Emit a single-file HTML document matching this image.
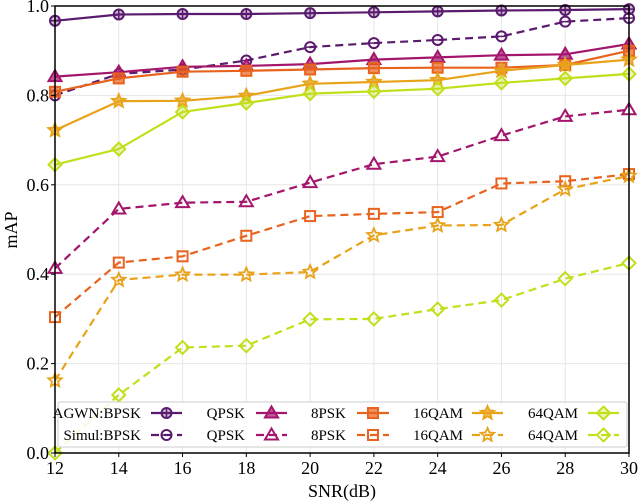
<!DOCTYPE html>
<html><head><meta charset="utf-8"><style>
html,body{margin:0;padding:0;background:#fff;width:640px;height:503px;overflow:hidden}
svg text{font-family:"Liberation Serif",serif;fill:#000}
</style></head><body>
<svg id="s" width="640" height="503" xmlns="http://www.w3.org/2000/svg"></svg>
<script>
const s=document.getElementById('s');
const X0=55,X1=629,Y0=453,Y1=6;
const fx=v=>X0+(v-12)/18*(X1-X0), fy=v=>Y0-v*(Y0-Y1);
let h='';
for(let x=14;x<30;x+=2)h+=`<line x1="${fx(x)}" y1="${Y1}" x2="${fx(x)}" y2="${Y0}" stroke="#e6e6e6" stroke-width="1"/>`;
for(let y=0.2;y<1;y+=0.2)h+=`<line x1="${X0}" y1="${fy(y)}" x2="${X1}" y2="${fy(y)}" stroke="#e6e6e6" stroke-width="1"/>`;
const xs=[12,14,16,18,20,22,24,26,28,30];
const S=[
['#5a1a6e','c',[0.967,0.981,0.982,0.982,0.984,0.986,0.988,0.99,0.991,0.993],[0.80,0.848,0.858,0.878,0.908,0.917,0.924,0.932,0.965,0.973]],
['#a3166c','t',[0.842,0.852,0.864,0.866,0.870,0.880,0.885,0.890,0.892,0.915],[0.413,0.546,0.560,0.562,0.605,0.646,0.663,0.710,0.753,0.768]],
['#e8631e','s',[0.808,0.838,0.853,0.855,0.858,0.861,0.862,0.862,0.868,0.900],[0.304,0.426,0.440,0.486,0.530,0.535,0.539,0.603,0.608,0.624]],
['#e8a31a','p',[0.722,0.787,0.788,0.799,0.826,0.830,0.834,0.855,0.868,0.880],[0.162,0.387,0.399,0.399,0.405,0.487,0.509,0.510,0.590,0.620]],
['#c3df1c','d',[0.645,0.680,0.763,0.783,0.804,0.809,0.815,0.828,0.838,0.848],[0.0,0.130,0.236,0.240,0.299,0.300,0.322,0.342,0.390,0.425]]];
function mk(t,x,y,c,fill){
 const f=fill?c:'none';
 if(t=='c')return `<circle cx="${x}" cy="${y}" r="5" fill="${fill?c:'#fff'}" fill-opacity="${fill?0.3:0}" stroke="${c}" stroke-width="2"/>`+(fill?`<line x1="${x-4.5}" y1="${y}" x2="${x+4.5}" y2="${y}" stroke="${c}" stroke-width="1.5"/><line x1="${x}" y1="${y-4.5}" x2="${x}" y2="${y+4.5}" stroke="${c}" stroke-width="1.5"/>`:`<line x1="${x-4.5}" y1="${y}" x2="${x+4.5}" y2="${y}" stroke="${c}" stroke-width="1.5"/>`);
 if(t=='t')return `<polygon points="${x},${y-6.5} ${x+6.5},${y+4.5} ${x-6.5},${y+4.5}" fill="${f}" fill-opacity="0.7" stroke="${c}" stroke-width="2"/>`;
 if(t=='s')return `<rect x="${x-5}" y="${y-5}" width="10" height="10" fill="${f}" fill-opacity="0.7" stroke="${c}" stroke-width="2"/>`;
 if(t=='p'){let p=[];for(let i=0;i<10;i++){const a=-Math.PI/2+i*Math.PI/5,rr=i%2?3.2:7;p.push((x+rr*Math.cos(a)).toFixed(1)+','+(y+rr*Math.sin(a)).toFixed(1));}return `<polygon points="${p.join(' ')}" fill="${f}" fill-opacity="0.7" stroke="${c}" stroke-width="1.8"/>`;}
 if(t=='d')return `<polygon points="${x},${y-6.5} ${x+6.5},${y} ${x},${y+6.5} ${x-6.5},${y}" fill="${fill?c:'#fff'}" fill-opacity="${fill?0.3:0}" stroke="${c}" stroke-width="2"/>`;
}
S.forEach(([c,t,a,b])=>{
 [[a,true],[b,false]].forEach(([d,solid])=>{
  const pts=xs.map((x,i)=>fx(x).toFixed(1)+','+fy(d[i]).toFixed(1)).join(' ');
  h+=`<polyline points="${pts}" fill="none" stroke="${c}" stroke-width="2.2" ${solid?'':'stroke-dasharray="8,5"'}/>`;
  xs.forEach((x,i)=>h+=mk(t,fx(x),fy(d[i]),c,solid));
 });
});
h+=`<rect x="58" y="402" width="569" height="45" fill="#fff" fill-opacity="0.85" stroke="#ccc" rx="2"/>`;
const cols=[[141,151,182],[245,256,287],[346,357,389],[463,472,503],[578,588,619]];
const names=[['AGWN:BPSK','Simul:BPSK'],['QPSK','QPSK'],['8PSK','8PSK'],['16QAM','16QAM'],['64QAM','64QAM']];
S.forEach(([c,t],k)=>{
 const [te,l0,l1]=cols[k];
 [[413,true],[435,false]].forEach(([y,solid],r)=>{
  h+=`<text x="${te}" y="${y+5}" font-size="15" text-anchor="end">${names[k][r]}</text>`;
  h+=`<line x1="${l0}" y1="${y}" x2="${l1}" y2="${y}" stroke="${c}" stroke-width="2.2" ${solid?'':'stroke-dasharray="8,5"'}/>`;
  h+=mk(t,(l0+l1)/2,y,c,solid);
 });
});
h+=`<rect x="${X0}" y="${Y1}" width="${X1-X0}" height="${Y0-Y1}" fill="none" stroke="#000" stroke-width="1.5"/>`;
xs.forEach(x=>{h+=`<line x1="${fx(x)}" y1="${Y0}" x2="${fx(x)}" y2="${Y0+4}" stroke="#000"/><text x="${fx(x)}" y="${Y0+21}" font-size="18" text-anchor="middle">${x}</text>`;});
for(let i=0;i<=5;i++){const y=fy(i*0.2);h+=`<line x1="${X0-4}" y1="${y}" x2="${X0}" y2="${y}" stroke="#000"/><text x="${X0-6}" y="${y+6}" font-size="18" text-anchor="end">${(i*0.2).toFixed(1)}</text>`;}
h+=`<text x="342" y="497" font-size="18" text-anchor="middle">SNR(dB)</text>`;
h+=`<text transform="translate(17,230) rotate(-90)" font-size="18" text-anchor="middle">mAP</text>`;
s.innerHTML=h;
</script>
</body></html>
